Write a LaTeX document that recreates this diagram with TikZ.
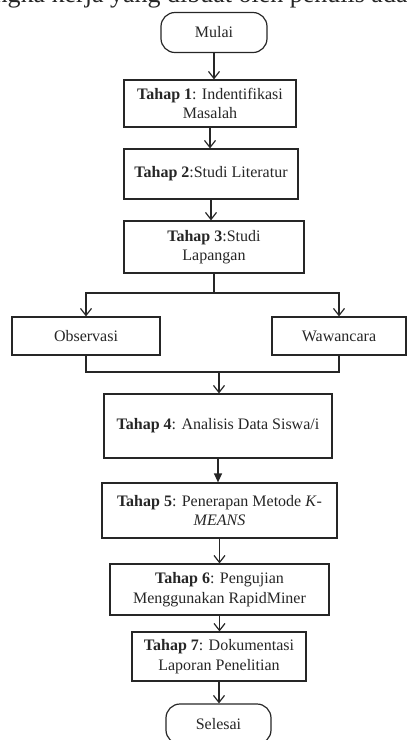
\documentclass[tikz,border=0pt]{standalone}
\usepackage{fontspec}
\setmainfont{Liberation Serif}
\usetikzlibrary{arrows.meta,positioning}

\begin{document}
\begin{tikzpicture}[
  x=1pt, y=-1pt,
  every node/.style={font=\fontsize{16}{19.5}\selectfont, text=black!85},
  box/.style={draw=black!85, line width=1.2pt, align=center, inner sep=0pt},
  ujung/.style={box, rounded corners=14pt},
  arr/.style={-{Straight Barb[length=7pt,width=11pt]}, line width=1.2pt, draw=black!85},
  arrpenuh/.style={-{Triangle[length=9pt,width=8pt]}, line width=1.2pt, draw=black!85},
  garis/.style={line width=1.2pt, draw=black!85}
]
\useasboundingbox (0,0) rectangle (407,740);
\clip (0,0) rectangle (407,740);

\node[anchor=base west, font=\fontsize{26}{30}\selectfont] (judul) at (-9,2) {ngka kerja yang dibuat oleh penulis ada};

\node[ujung, minimum width=106pt, minimum height=40pt] (mulai) at (214,32.5) {Mulai};
\node[box, minimum width=172pt, minimum height=47pt] (t1) at (210,103.5) {\textbf{Tahap 1}: Indentifikasi\\Masalah};
\node[box, minimum width=174pt, minimum height=50pt] (t2) at (211,174) {\textbf{Tahap 2}:Studi Literatur};
\node[box, minimum width=180pt, minimum height=52pt] (t3) at (214,247) {\textbf{Tahap 3}:Studi\\Lapangan};
\node[box, minimum width=148pt, minimum height=38pt] (obs) at (86,336) {Observasi};
\node[box, minimum width=134pt, minimum height=38pt] (waw) at (339,336) {Wawancara};
\node[box, minimum width=228pt, minimum height=64pt] (t4) at (218,426) {\textbf{Tahap 4}: Analisis Data Siswa/i};
\node[box, minimum width=235pt, minimum height=55pt] (t5) at (219.5,510.5) {\textbf{Tahap 5}: Penerapan Metode \textit{K}-\\\textit{MEANS}};
\node[box, minimum width=219pt, minimum height=51pt] (t6) at (219.5,589.5) {\textbf{Tahap 6}: Pengujian\\Menggunakan RapidMiner};
\node[box, minimum width=174pt, minimum height=49pt] (t7) at (219,656.5) {\textbf{Tahap 7}: Dokumentasi\\Laporan Penelitian};
\node[ujung, minimum width=105pt, minimum height=40pt] (selesai) at (218.5,724) {Selesai};

\coordinate (cabang) at (214,293);
\coordinate (gabung) at (219,372);

\draw[arr] (mulai.south) -- (mulai.south |- t1.north);
\draw[arr] (t1.south) -- (t1.south |- t2.north);
\draw[arr] (t2.south) -- (t2.south |- t3.north);
\draw[garis] (t3.south) -- (cabang);
\draw[arr] (cabang) -| (obs.north);
\draw[arr] (cabang) -| (waw.north);
\draw[garis] (obs.south) |- (gabung) -| (waw.south);
\draw[arr] (gabung) -- (gabung |- t4.north);
\draw[arrpenuh] (t4.south) -- (t4.south |- t5.north);
\draw[arr] (t5.south) -- (t5.south |- t6.north);
\draw[arr] (t6.south) -- (t6.south |- t7.north);
\draw[arr] (t7.south) -- (t7.south |- selesai.north);
\end{tikzpicture}
\end{document}
